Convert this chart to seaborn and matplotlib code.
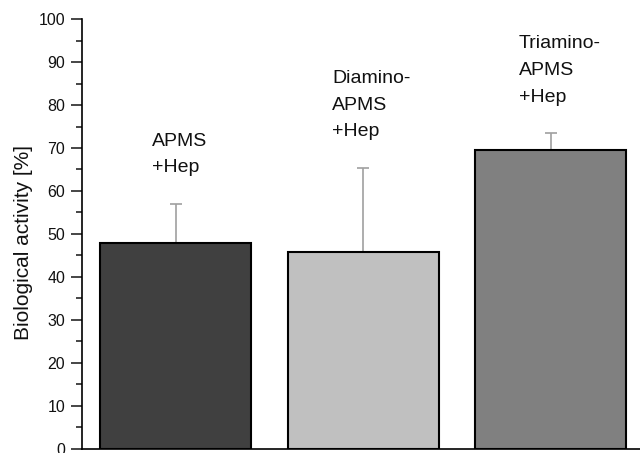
import matplotlib
matplotlib.use('Agg')
import matplotlib.pyplot as plt
import numpy as np
import seaborn as sns
import pandas as pd
from matplotlib.ticker import MultipleLocator

# data
categories = ['APMS\n+Hep', 'Diamino-\nAPMS\n+Hep', 'Triamino-\nAPMS\n+Hep']
activity = [47.8, 45.9, 69.5]
error_up = [9.2, 19.5, 3.9]
bar_colors = ['#404040', '#c0c0c0', '#808080']

sns.set_style('ticks')
plt.rcParams['font.family'] = ['Liberation Sans', 'DejaVu Sans']
plt.rcParams['text.color'] = '#111111'
plt.rcParams['ytick.labelcolor'] = '#111111'
plt.rcParams['axes.labelcolor'] = '#111111'

df = pd.DataFrame({'category': categories, 'value': activity})

fig = plt.figure(figsize=(6.4, 4.53), dpi=100)
ax = fig.add_axes([0.128, 0.009, 0.872, 0.949])

sns.barplot(data=df, x='category', y='value', hue='category', palette=bar_colors,
            width=0.805, edgecolor='black', linewidth=1.5, saturation=1,
            legend=False, ax=ax, zorder=3)

x = np.arange(len(categories))
ax.errorbar(x, activity, yerr=[np.zeros(len(x)), error_up], fmt='none',
            ecolor='#a0a0a0', elinewidth=1.2, capsize=4.5, capthick=1.2, zorder=2)

# labels above each bar
offsets = [-0.128, -0.165, -0.171]
for i, lab in enumerate(categories):
    ax.text(i + offsets[i], activity[i] + error_up[i] + 6.4, lab,
            ha='left', va='bottom', fontsize=14, linespacing=1.75)

ax.set_xlim(-0.5, 2.475)
ax.set_ylim(0, 100)
ax.yaxis.set_major_locator(MultipleLocator(10))
ax.yaxis.set_minor_locator(MultipleLocator(5))
ax.tick_params(axis='y', which='major', length=8, width=1.2, labelsize=11.5, pad=4)
ax.tick_params(axis='y', which='minor', length=4, width=1.2)
ax.tick_params(axis='x', length=0, labelbottom=False)
ax.set_xlabel('')
ax.set_ylabel('Biological activity [%]', fontsize=15)
ax.yaxis.set_label_coords(-0.088, 0.48)

sns.despine(ax=ax)
for s in ['left', 'bottom']:
    ax.spines[s].set_linewidth(1.2)
    ax.spines[s].set_color('black')

plt.savefig('out.png', dpi=100)
